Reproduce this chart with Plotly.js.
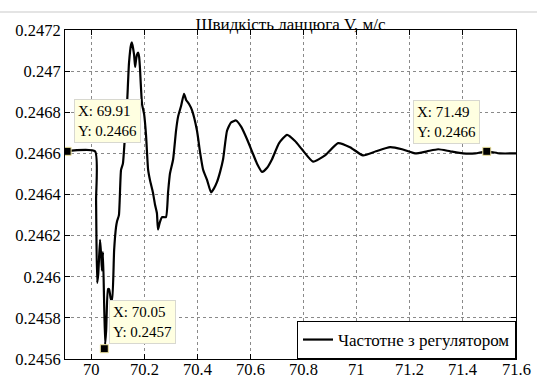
<!DOCTYPE html>
<html>
<head>
<meta charset="utf-8">
<script src="https://cdn.plot.ly/plotly-3.0.1.min.js"></script>
<style>html,body{margin:0;padding:0;background:#fff;}#chart{width:537px;height:381px;}</style>
</head>
<body>
<div id="chart"></div>
<script>
const seriesName = "Частотне з регулятором";
const chartTitle = "Швидкість ланцюга V, м/с";
const timeS = [69.902,70.015,70.019,70.023,70.027,70.034,70.038,70.041,70.045,70.053,70.057,70.064,70.068,70.075,70.079,70.087,70.094,70.098,70.105,70.113,70.120,70.128,70.136,70.143,70.151,70.154,70.162,70.166,70.169,70.173,70.177,70.181,70.184,70.192,70.200,70.207,70.215,70.222,70.233,70.241,70.248,70.252,70.258,70.267,70.282,70.290,70.297,70.309,70.320,70.328,70.339,70.350,70.358,70.369,70.380,70.399,70.410,70.422,70.437,70.452,70.463,70.474,70.486,70.497,70.512,70.527,70.546,70.565,70.587,70.606,70.625,70.644,70.663,70.681,70.708,70.738,70.768,70.794,70.836,70.881,70.930,70.975,71.024,71.073,71.126,71.171,71.220,71.265,71.307,71.352,71.400,71.446,71.490,71.539,71.600];
const speed = [0.24661,0.24661,0.24637,0.24597,0.24601,0.24618,0.24611,0.24603,0.24612,0.24567,0.24574,0.24594,0.24594,0.24589,0.24589,0.24613,0.24624,0.24627,0.24630,0.24652,0.24655,0.24669,0.24685,0.24704,0.24713,0.24714,0.24708,0.24702,0.24705,0.24708,0.24709,0.24707,0.24702,0.24684,0.24679,0.24669,0.24652,0.24647,0.24641,0.24635,0.24631,0.24623,0.24626,0.24629,0.24629,0.24641,0.24650,0.24657,0.24671,0.24678,0.24683,0.24689,0.24686,0.24684,0.24681,0.24671,0.24661,0.24652,0.24647,0.24641,0.24643,0.24646,0.24651,0.24657,0.24671,0.24675,0.24676,0.24673,0.24667,0.24661,0.24655,0.24651,0.24653,0.24657,0.24665,0.24669,0.24666,0.24662,0.24656,0.24659,0.24665,0.24663,0.24659,0.24661,0.24663,0.24662,0.24660,0.24661,0.24662,0.24661,0.24660,0.24660,0.24661,0.24660,0.24660];
const tipX = [69.91, 70.05, 71.49];
const tipY = [0.24661, 0.24565, 0.24661];
const tipLabelX = ["69.91", "70.05", "71.49"];
const tipLabelY = ["0.2466", "0.2457", "0.2466"];
const xTickVals = [70,70.2,70.4,70.6,70.8,71,71.2,71.4,71.6];
const xTickText = ["70","70.2","70.4","70.6","70.8","71","71.2","71.4","71.6"];
const yTickVals = [0.2456,0.2458,0.246,0.2462,0.2464,0.2466,0.2468,0.247,0.2472];
const yTickText = ["0.2456","0.2458","0.246","0.2462","0.2464","0.2466","0.2468","0.247","0.2472"];

const font = "'Liberation Serif', 'Times New Roman', serif";
const traces = [
  {x: timeS, y: speed, type: "scatter", mode: "lines", name: seriesName,
   line: {color: "#000", width: 2.2, shape: "spline", smoothing: 0.5}},
  {x: tipX, y: tipY, type: "scatter", mode: "markers", showlegend: false,
   marker: {symbol: "square", size: 8, color: "#000", line: {color: "#f0e6a0", width: 1}}}
];
const tipPlace = [
  {xanchor: "left", xshift: 7, yshift: 8},
  {xanchor: "left", xshift: 5, yshift: 5},
  {xanchor: "right", xshift: -7, yshift: 7}
];
const annotations = tipX.map((v, i) => ({
  x: v, y: tipY[i], xref: "x", yref: "y", showarrow: false,
  text: "X: " + tipLabelX[i] + "<br>Y: " + tipLabelY[i],
  align: "left", xanchor: tipPlace[i].xanchor, yanchor: "bottom",
  xshift: tipPlace[i].xshift, yshift: tipPlace[i].yshift,
  bgcolor: "#ffffe1", bordercolor: "#d8d8d0", borderwidth: 1, borderpad: 3,
  font: {family: font, size: 15, color: "#000"}
}));
// x tick labels placed just under the axis
xTickVals.forEach((v, i) => annotations.push({
  x: v, y: 0, xref: "x", yref: "paper", showarrow: false, text: xTickText[i],
  xanchor: "center", yanchor: "top", yshift: 1,
  font: {family: font, size: 16.5, color: "#000"}
}));
const axisCommon = {
  showline: true, linecolor: "#000", linewidth: 1, mirror: "ticks",
  ticks: "inside", ticklen: 5, tickcolor: "#000",
  showgrid: true, gridcolor: "#8a8a8a", griddash: "dot", gridwidth: 1,
  zeroline: false, tickfont: {family: font, size: 16.5, color: "#000"}
};
const layout = {
  width: 537, height: 381,
  margin: {l: 65, r: 21, t: 30, b: 22},
  paper_bgcolor: "#fff", plot_bgcolor: "#fff",
  font: {family: font, color: "#000"},
  title: {text: chartTitle, font: {family: font, size: 17, color: "#000"},
          x: 0.5, xref: "paper", y: 1, yref: "paper", yanchor: "bottom", pad: {b: 0}},
  xaxis: Object.assign({}, axisCommon, {range: [69.902, 71.6], tickvals: xTickVals, showticklabels: false}),
  yaxis: Object.assign({}, axisCommon, {range: [0.2456, 0.2472], tickvals: yTickVals, ticktext: yTickText}),
  showlegend: true,
  legend: {x: 1, xanchor: "right", y: 0, yanchor: "bottom", bgcolor: "#fff",
           bordercolor: "#000", borderwidth: 1, font: {family: font, size: 17, color: "#000"},
           tracegroupgap: 0},
  annotations: annotations,
  shapes: [{type: "line", xref: "paper", yref: "paper", x0: -0.2, x1: 1.2, y0: 1 + 18/329, y1: 1 + 18/329,
            line: {color: "#e4e4e4", width: 2}}]
};
Plotly.newPlot("chart", traces, layout, {staticPlot: true, displayModeBar: false});
</script>
</body>
</html>
